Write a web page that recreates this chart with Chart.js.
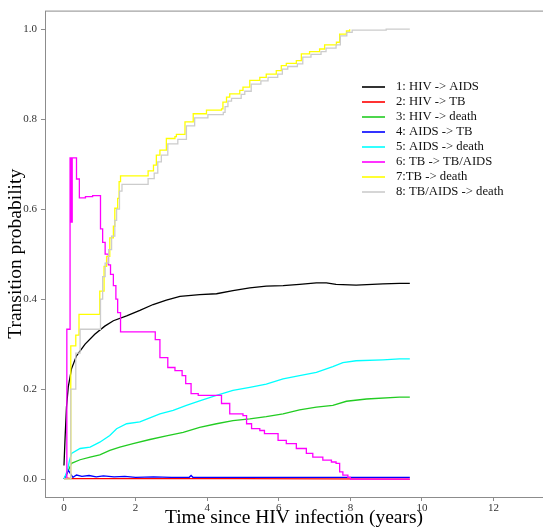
<!DOCTYPE html>
<html>
<head>
<meta charset="utf-8">
<script src="https://cdn.jsdelivr.net/npm/chart.js@4/dist/chart.umd.min.js"></script>
<style>
  html, body { margin: 0; padding: 0; background: #fff; }
  #wrap { width: 543px; height: 530px; }
</style>
</head>
<body>
<div id="wrap"><canvas id="chart" width="543" height="530"></canvas></div>
<script>
// Transition probabilities as [years, probability]
const hivAids = [
  [0, 0.03], [0.03, 0.09], [0.07, 0.16], [0.12, 0.205], [0.21, 0.245], [0.35, 0.274],
  [0.59, 0.3], [0.86, 0.322], [1.14, 0.34], [1.38, 0.352], [1.75, 0.363], [2.12, 0.375],
  [2.49, 0.388], [2.86, 0.398], [3.24, 0.406], [3.79, 0.41], [4.26, 0.412], [4.72, 0.419],
  [5.19, 0.425], [5.65, 0.429], [6.12, 0.43], [6.58, 0.433], [7.05, 0.436], [7.33, 0.436],
  [7.6, 0.433], [8.16, 0.431], [8.91, 0.434], [9.37, 0.435], [9.66, 0.435]
];
const hivTb = [
  [0, 0], [0.1, 0.002], [0.2, 0.001], [5, 0.001], [9.66, 0]
];
const hivDeath = [
  [0, 0], [0.1, 0.015], [0.21, 0.035], [0.45, 0.043], [0.73, 0.049], [1.0, 0.054],
  [1.28, 0.064], [1.56, 0.071], [1.93, 0.079], [2.4, 0.088], [2.86, 0.096], [3.33, 0.104],
  [3.79, 0.115], [4.26, 0.123], [4.72, 0.13], [5.19, 0.134], [5.65, 0.139], [6.12, 0.145],
  [6.58, 0.154], [7.05, 0.16], [7.51, 0.164], [7.89, 0.173], [8.45, 0.178], [9.37, 0.182],
  [9.66, 0.182]
];
const aidsTb = [
  [0, 0], [0.08, 0.012], [0.12, 0.02], [0.18, 0.012], [0.25, 0.004], [0.35, 0.009],
  [0.5, 0.006], [0.7, 0.008], [0.9, 0.005], [1.1, 0.007], [1.4, 0.005], [1.7, 0.006],
  [2.0, 0.004], [2.5, 0.005], [3.0, 0.004], [3.5, 0.004], [3.55, 0.008], [3.6, 0.004],
  [5.0, 0.004], [7.0, 0.004], [9.66, 0.004]
];
const aidsDeath = [
  [0, 0], [0.1, 0.02], [0.15, 0.04], [0.21, 0.057], [0.45, 0.068], [0.73, 0.071],
  [1.0, 0.082], [1.28, 0.097], [1.47, 0.112], [1.75, 0.123], [2.12, 0.127], [2.4, 0.136],
  [2.68, 0.145], [3.05, 0.153], [3.42, 0.164], [3.79, 0.174], [4.26, 0.186], [4.72, 0.197],
  [5.19, 0.204], [5.65, 0.211], [6.12, 0.223], [6.58, 0.23], [7.05, 0.237], [7.51, 0.25],
  [7.79, 0.259], [8.16, 0.263], [8.91, 0.265], [9.37, 0.267], [9.66, 0.267]
];
// step functions: value becomes p at time t
const tbTbAids = [
  [0, 0], [0.08, 0.333], [0.17, 0.714], [0.2, 0.571], [0.23, 0.714], [0.35, 0.667],
  [0.43, 0.625], [0.6, 0.628], [0.8, 0.63], [1.02, 0.556], [1.08, 0.526], [1.15, 0.5],
  [1.24, 0.476], [1.3, 0.455], [1.38, 0.43], [1.45, 0.4], [1.5, 0.37], [1.58, 0.327],
  [2.55, 0.31], [2.68, 0.27], [2.9, 0.248], [3.1, 0.241], [3.3, 0.23], [3.4, 0.212],
  [3.55, 0.19], [3.75, 0.186], [4.4, 0.168], [4.63, 0.145], [5.0, 0.141], [5.1, 0.123],
  [5.24, 0.112], [5.47, 0.108], [5.6, 0.101], [5.98, 0.086], [6.21, 0.079], [6.49, 0.068],
  [6.77, 0.057], [6.95, 0.049], [7.23, 0.042], [7.47, 0.038], [7.6, 0.035], [7.7, 0.016],
  [7.79, 0.009], [7.93, 0.004], [8.0, 0], [9.66, 0]
];
const tbDeath = [
  [0, 0], [0.19, 0.296], [0.33, 0.32], [0.42, 0.366], [1.0, 0.418], [1.12, 0.473],
  [1.19, 0.495], [1.28, 0.536], [1.38, 0.562], [1.42, 0.602], [1.5, 0.624], [1.54, 0.661],
  [1.58, 0.674], [2.35, 0.685], [2.5, 0.698], [2.58, 0.72], [2.68, 0.731], [2.86, 0.757],
  [3.1, 0.761], [3.14, 0.766], [3.38, 0.794], [3.61, 0.812], [3.98, 0.82], [4.4, 0.823],
  [4.44, 0.838], [4.54, 0.849], [4.63, 0.856], [4.91, 0.864], [5.0, 0.871], [5.19, 0.886],
  [5.47, 0.893], [5.65, 0.9], [5.93, 0.908], [6.07, 0.919], [6.21, 0.924], [6.49, 0.93],
  [6.63, 0.945], [6.86, 0.95], [7.14, 0.956], [7.28, 0.965], [7.61, 0.971], [7.7, 0.989],
  [7.89, 0.996], [7.98, 1.0]
];
const tbAidsDeath = [
  [0, 0], [0.19, 0.2], [0.33, 0.28], [0.45, 0.333], [1.02, 0.4], [1.08, 0.45],
  [1.15, 0.48], [1.25, 0.51], [1.33, 0.54], [1.42, 0.575], [1.47, 0.6], [1.55, 0.64],
  [1.62, 0.655], [2.35, 0.668], [2.52, 0.68], [2.62, 0.705], [2.72, 0.72], [2.9, 0.745],
  [3.18, 0.755], [3.42, 0.785], [3.65, 0.803], [4.02, 0.81], [4.45, 0.815], [4.5, 0.828],
  [4.58, 0.84], [4.68, 0.846], [4.95, 0.855], [5.05, 0.862], [5.23, 0.878], [5.5, 0.885],
  [5.7, 0.893], [5.97, 0.9], [6.1, 0.911], [6.25, 0.917], [6.52, 0.923], [6.67, 0.938],
  [6.9, 0.944], [7.18, 0.95], [7.32, 0.958], [7.6, 0.965], [7.72, 0.985], [7.9, 0.993],
  [8.05, 0.998], [9.0, 1.0], [9.66, 1.0]
];

const seriesLabels = [
  '1: HIV -> AIDS', '2: HIV -> TB', '3: HIV -> death', '4: AIDS -> TB',
  '5: AIDS -> death', '6: TB -> TB/AIDS', '7:TB -> death', '8: TB/AIDS -> death'
];
const seriesData = [hivAids, hivTb, hivDeath, aidsTb, aidsDeath, tbTbAids, tbDeath, tbAidsDeath];
const seriesColors = ['#000000', '#ff0000', '#22cc22', '#0000ff', '#00ffff', '#ff00ff', '#ffff00', '#cccccc'];
const seriesStepped = [false, false, false, false, false, true, true, true];

const xTicks = [0, 2, 4, 6, 8, 10, 12];
const yTicks = [0, 0.2, 0.4, 0.6, 0.8, 1.0];

const serif = "'Liberation Serif', 'Times New Roman', serif";
const frameColor = '#8c8c8c';

// box round the plot area + legend in the top right corner
const framePlugin = {
  id: 'frame',
  afterDraw(chart) {
    const { ctx, chartArea: a } = chart;
    ctx.save();
    ctx.strokeStyle = frameColor;
    ctx.lineWidth = 1;
    ctx.strokeRect(a.left + 0.5, a.top + 0.5, a.right - a.left, a.bottom - a.top);

    ctx.font = '12.7px ' + serif;
    ctx.textBaseline = 'middle';
    ctx.fillStyle = '#111';
    seriesLabels.forEach((lab, i) => {
      const y = 87 + i * 15;
      ctx.strokeStyle = seriesColors[i];
      ctx.lineWidth = 1.6;
      ctx.beginPath();
      ctx.moveTo(362, y);
      ctx.lineTo(385, y);
      ctx.stroke();
      ctx.fillText(lab, 396, y);
    });
    ctx.restore();
  }
};

new Chart(document.getElementById('chart'), {
  type: 'line',
  data: {
    datasets: seriesData.map((pts, i) => ({
      label: seriesLabels[i],
      data: pts.map(([x, y]) => ({ x, y })),
      borderColor: seriesColors[i],
      backgroundColor: seriesColors[i],
      borderWidth: 1.3,
      pointRadius: 0,
      stepped: seriesStepped[i] ? 'before' : false,
      tension: 0,
      order: 8 - i
    }))
  },
  options: {
    responsive: false,
    animation: false,
    layout: { padding: { top: 8, right: 0, left: 0, bottom: 0 } },
    plugins: { legend: { display: false }, tooltip: { enabled: false } },
    scales: {
      x: {
        type: 'linear',
        min: -0.53,
        max: 13.38,
        afterFit(s) { s.height = 33; },
        afterBuildTicks(s) { s.ticks = xTicks.map(v => ({ value: v })); },
        grid: { drawOnChartArea: false, drawTicks: true, tickLength: 4, color: frameColor },
        border: { display: false },
        ticks: { font: { family: serif, size: 11 }, color: '#333', padding: 1, maxRotation: 0 },
        title: { display: true, text: 'Time since HIV infection (years)', font: { family: serif, size: 19.5 }, color: '#000', padding: { top: 0, bottom: 0 } }
      },
      y: {
        type: 'linear',
        min: -0.0398,
        max: 1.0413,
        afterFit(s) { s.width = 45; },
        afterBuildTicks(s) { s.ticks = yTicks.map(v => ({ value: v })); },
        grid: { drawOnChartArea: false, drawTicks: true, tickLength: 4, color: frameColor },
        border: { display: false },
        ticks: { font: { family: serif, size: 11 }, color: '#333', padding: 4, callback: v => v.toFixed(1) },
        title: { display: true, text: 'Transition probability', font: { family: serif, size: 19.5 }, color: '#000', padding: { top: 4, bottom: 0 } }
      }
    }
  },
  plugins: [framePlugin]
});
</script>
</body>
</html>
